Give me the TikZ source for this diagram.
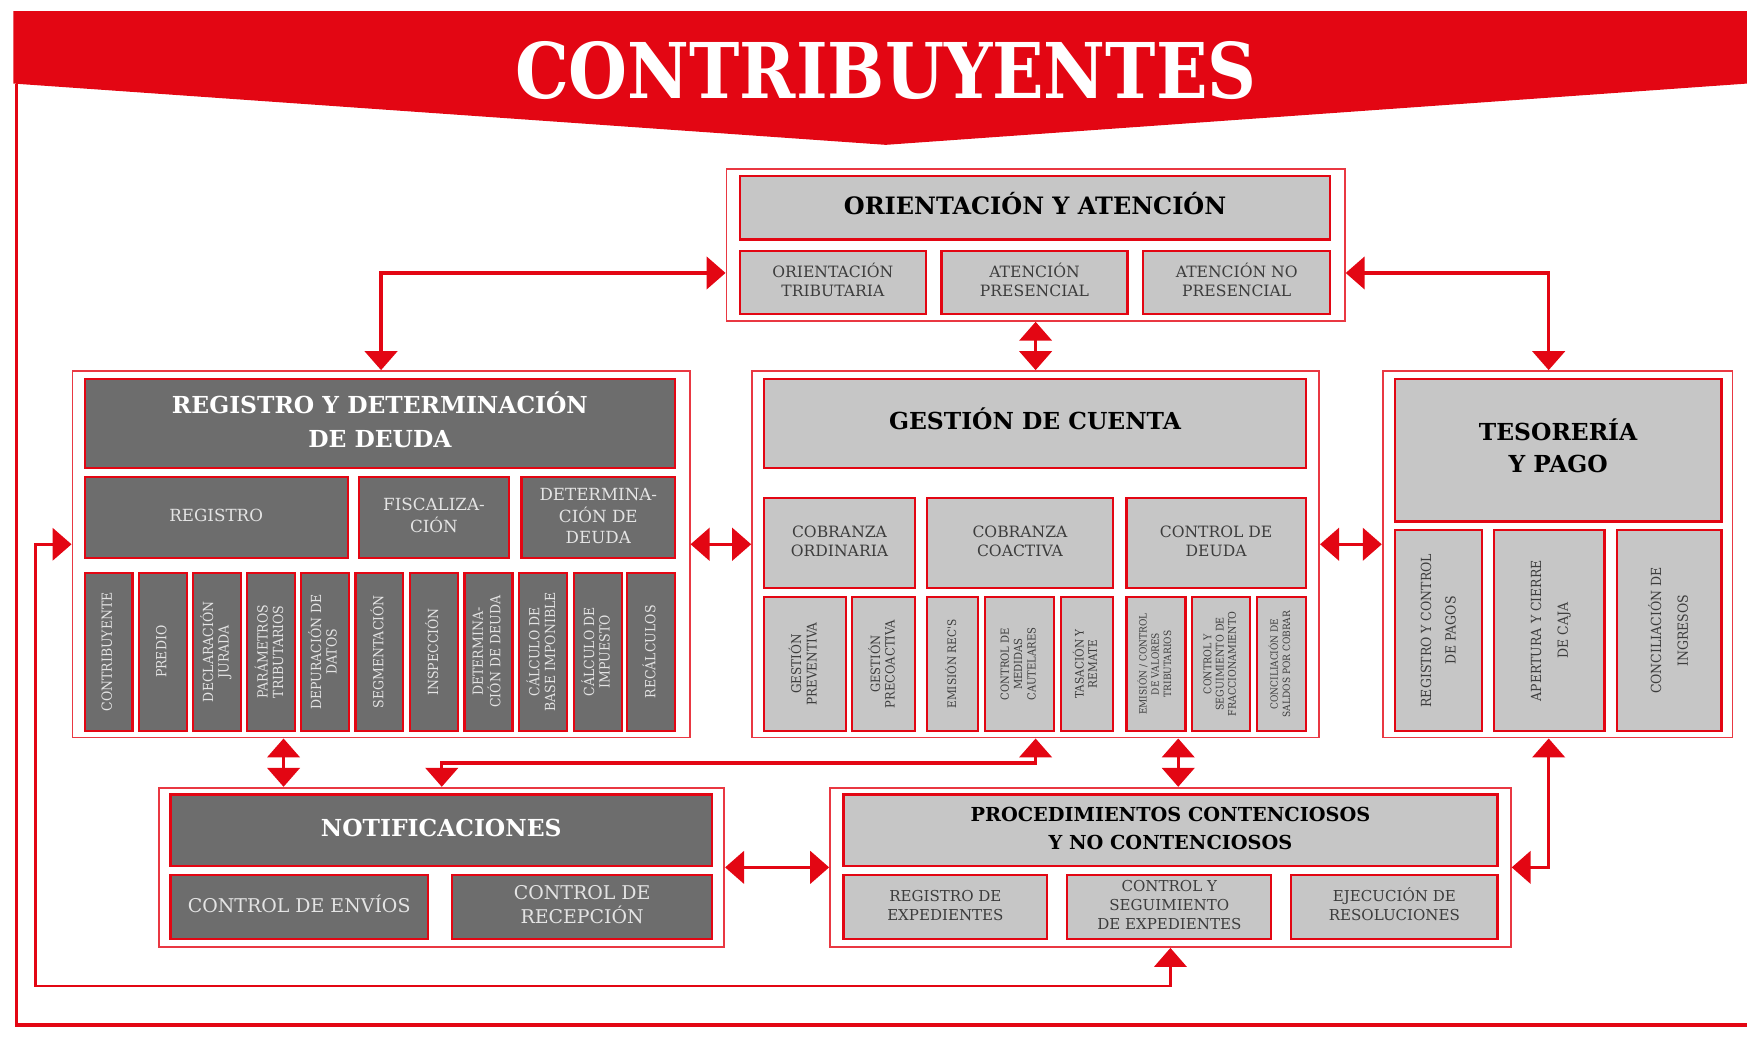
\documentclass[tikz,border=0pt]{standalone}
\usepackage{fontspec}
\setmainfont{DejaVu Serif}
\newfontfamily\titlefont{DejaVu Serif}[FakeStretch=0.88]
\newfontfamily\narrowfont{DejaVu Serif}[FakeStretch=0.9]
\usetikzlibrary{arrows.meta, fit, calc}
\definecolor{cred}{HTML}{E30613}
\definecolor{boxdark}{HTML}{6D6D6D}
\definecolor{boxlight}{HTML}{C6C6C6}
\definecolor{txtlight}{HTML}{E4E4E4}
\definecolor{txtdark}{HTML}{3C3C3C}
\newcommand{\stk}[1]{\begin{tabular}{@{}c@{}}#1\end{tabular}}
\tikzset{
  frame/.style={draw=cred!80, line width=1.6pt, inner sep=0pt},
  darkbox/.style={fill=boxdark, draw=cred, line width=2pt, inner sep=0pt},
  lightbox/.style={fill=boxlight, draw=cred, line width=2pt, inner sep=0pt},
  hdark/.style={inner sep=0pt, text=white, font=\bfseries\fontsize{21}{31}\selectfont},
  hlight/.style={inner sep=0pt, text=black, font=\bfseries\fontsize{21}{29}\selectfont},
  sdark/.style={inner sep=0pt, text=txtlight, font=\fontsize{15}{19.5}\selectfont},
  slight/.style={inner sep=0pt, text=txtdark, font=\fontsize{14}{17}\selectfont},
  vdark/.style={rotate=90, inner sep=0pt, text=txtlight, font=\narrowfont\fontsize{12.5}{14}\selectfont},
  vlight/.style={rotate=90, inner sep=0pt, text=txtdark, font=\narrowfont\fontsize{12}{14}\selectfont},
  link/.style={draw=cred, line width=3pt, {Triangle[width=29pt,length=17pt]}-{Triangle[width=29pt,length=17pt]}}
}

\begin{document}
\begin{tikzpicture}[x=1pt, y=-1pt]
  \useasboundingbox (0,0) rectangle (1568,931);

  % banner and outer border
  \fill[cred] (12,10) -- (1568,10) -- (1568,75) -- (795,130) -- (12,75) -- cycle;
  \node[text=white, font=\titlefont\bfseries\fontsize{69}{70}\selectfont] (title) at (795,63) {CONTRIBUYENTES};
  \draw[cred, line width=3pt] (15,75) -- (15,920) -- (1568,920);

  % orientacion y atencion
  \node[frame, fit={(652,152) (1207,288)}] (oa) {};
  \node[lightbox, fit={(664,158) (1194,215)}, label={[hlight, font=\bfseries\fontsize{21.5}{26}\selectfont]center:\stk{ORIENTACIÓN Y ATENCIÓN}}] (oah) {};
  \node[lightbox, fit={(664,225) (831,282)}, label={[slight]center:\stk{ORIENTACIÓN\\TRIBUTARIA}}] (oa1) {};
  \node[lightbox, fit={(845,225) (1012,282)}, label={[slight]center:\stk{ATENCIÓN\\PRESENCIAL}}] (oa2) {};
  \node[lightbox, fit={(1026,225) (1194,282)}, label={[slight]center:\stk{ATENCIÓN NO\\PRESENCIAL}}] (oa3) {};

  % registro y determinacion de deuda
  \node[frame, fit={(65,333) (619,662)}] (rd) {};
  \node[darkbox, fit={(76,340) (606,420)}, label={[hdark]center:\stk{REGISTRO Y DETERMINACIÓN\\DE DEUDA}}] (rdh) {};
  \node[darkbox, fit={(76,428) (312,501)}, label={[sdark]center:\stk{REGISTRO}}] (rdreg) {};
  \node[darkbox, fit={(322,428) (457,501)}, label={[sdark]center:\stk{FISCALIZA-\\CIÓN}}] (rdfis) {};
  \node[darkbox, fit={(468,428) (606,501)}, label={[sdark]center:\stk{DETERMINA-\\CIÓN DE\\DEUDA}}] (rddet) {};
  \node[darkbox, fit={(76,514) (119,656)}, label={[vdark]center:\stk{CONTRIBUYENTE}}] (rd1) {};
  \node[darkbox, fit={(125,514) (168,656)}, label={[vdark]center:\stk{PREDIO}}] (rd2) {};
  \node[darkbox, fit={(173,514) (216,656)}, label={[vdark]center:\stk{DECLARACIÓN\\JURADA}}] (rd3) {};
  \node[darkbox, fit={(222,514) (265,656)}, label={[vdark]center:\stk{PARÁMETROS\\TRIBUTARIOS}}] (rd4) {};
  \node[darkbox, fit={(270,514) (313,656)}, label={[vdark]center:\stk{DEPURACIÓN DE\\DATOS}}] (rd5) {};
  \node[darkbox, fit={(319,514) (362,656)}, label={[vdark]center:\stk{SEGMENTACIÓN}}] (rd6) {};
  \node[darkbox, fit={(368,514) (411,656)}, label={[vdark]center:\stk{INSPECCIÓN}}] (rd7) {};
  \node[darkbox, fit={(417,514) (460,656)}, label={[vdark]center:\stk{DETERMINA-\\CIÓN DE DEUDA}}] (rd8) {};
  \node[darkbox, fit={(466,514) (509,656)}, label={[vdark]center:\stk{CÁLCULO DE\\BASE IMPONIBLE}}] (rd9) {};
  \node[darkbox, fit={(515,514) (558,656)}, label={[vdark]center:\stk{CÁLCULO DE\\IMPUESTO}}] (rd10) {};
  \node[darkbox, fit={(563,514) (606,656)}, label={[vdark]center:\stk{RECÁLCULOS}}] (rd11) {};

  % gestion de cuenta
  \node[frame, fit={(675,333) (1184,662)}] (gc) {};
  \node[lightbox, fit={(686,340) (1172,420)}, label={[hlight]center:\stk{GESTIÓN DE CUENTA}}] (gch) {};
  \node[lightbox, fit={(686,447) (821,528)}, label={[slight]center:\stk{COBRANZA\\ORDINARIA}}] (gcord) {};
  \node[lightbox, fit={(832,447) (999,528)}, label={[slight]center:\stk{COBRANZA\\COACTIVA}}] (gccoa) {};
  \node[lightbox, fit={(1011,447) (1172,528)}, label={[slight]center:\stk{CONTROL DE\\DEUDA}}] (gcctl) {};
  \node[lightbox, fit={(686,536) (759,656)}, label={[vlight]center:\stk{GESTIÓN\\PREVENTIVA}}] (gc1) {};
  \node[lightbox, fit={(765,536) (821,656)}, label={[vlight, font=\narrowfont\fontsize{11.5}{13}\selectfont]center:\stk{GESTIÓN\\PRECOACTIVA}}] (gc2) {};
  \node[lightbox, fit={(832,536) (878,656)}, label={[vlight, font=\narrowfont\fontsize{10.5}{12}\selectfont]center:\stk{EMISIÓN REC'S}}] (gc3) {};
  \node[lightbox, fit={(884,536) (946,656)}, label={[vlight, font=\narrowfont\fontsize{10}{12}\selectfont]center:\stk{CONTROL DE\\MEDIDAS\\CAUTELARES}}] (gc4) {};
  \node[lightbox, fit={(952,536) (999,656)}, label={[vlight, font=\narrowfont\fontsize{10.5}{12}\selectfont]center:\stk{TASACIÓN Y\\REMATE}}] (gc5) {};
  \node[lightbox, fit={(1011,536) (1064,656)}, label={[vlight, font=\narrowfont\fontsize{9}{11}\selectfont]center:\stk{EMISIÓN / CONTROL\\DE VALORES\\TRIBUTARIOS}}] (gc6) {};
  \node[lightbox, fit={(1070,536) (1122,656)}, label={[vlight, font=\narrowfont\fontsize{9.5}{11}\selectfont]center:\stk{CONTROL Y\\SEGUIMIENTO DE\\FRACCIONAMIENTO}}] (gc7) {};
  \node[lightbox, fit={(1128,536) (1172,656)}, label={[vlight, font=\narrowfont\fontsize{9}{11}\selectfont]center:\stk{CONCILIACIÓN DE\\SALDOS POR COBRAR}}] (gc8) {};

  % tesoreria y pago
  \node[frame, fit={(1241,333) (1555,662)}] (tp) {};
  \node[lightbox, fit={(1252,340) (1545,468)}, label={[hlight]center:\stk{TESORERÍA\\Y PAGO}}] (tph) {};
  \node[lightbox, fit={(1252,476) (1330,656)}, label={[vlight, font=\narrowfont\fontsize{12.5}{22}\selectfont]center:\stk{REGISTRO Y CONTROL\\DE PAGOS}}] (tp1) {};
  \node[lightbox, fit={(1341,476) (1440,656)}, label={[vlight, font=\narrowfont\fontsize{12.5}{24}\selectfont]center:\stk{APERTURA Y CIERRE\\DE CAJA}}] (tp2) {};
  \node[lightbox, fit={(1451,476) (1545,656)}, label={[vlight, font=\narrowfont\fontsize{12.5}{24}\selectfont]center:\stk{CONCILIACIÓN DE\\INGRESOS}}] (tp3) {};

  % notificaciones
  \node[frame, fit={(143,707) (650,850)}] (nt) {};
  \node[darkbox, fit={(153,713) (639,777)}, label={[hdark]center:\stk{NOTIFICACIONES}}] (nth) {};
  \node[darkbox, fit={(153,785) (384,843)}, label={[sdark, font=\fontsize{17}{21}\selectfont]center:\stk{CONTROL DE ENVÍOS}}] (nt1) {};
  \node[darkbox, fit={(406,785) (639,843)}, label={[sdark, font=\fontsize{17}{21}\selectfont]center:\stk{CONTROL DE\\RECEPCIÓN}}] (nt2) {};

  % procedimientos
  \node[frame, fit={(745,707) (1356,850)}] (pc) {};
  \node[lightbox, fit={(757,713) (1344,777)}, label={[hlight, font=\bfseries\fontsize{17.3}{25}\selectfont]center:\stk{PROCEDIMIENTOS CONTENCIOSOS\\Y NO CONTENCIOSOS}}] (pch) {};
  \node[lightbox, fit={(757,785) (940,843)}, label={[slight, font=\fontsize{13.5}{17}\selectfont]center:\stk{REGISTRO DE\\EXPEDIENTES}}] (pc1) {};
  \node[lightbox, fit={(958,785) (1141,843)}, label={[slight, font=\fontsize{13.5}{17}\selectfont]center:\stk{CONTROL Y\\SEGUIMIENTO\\DE EXPEDIENTES}}] (pc2) {};
  \node[lightbox, fit={(1159,785) (1344,843)}, label={[slight, font=\fontsize{13.5}{17}\selectfont]center:\stk{EJECUCIÓN DE\\RESOLUCIONES}}] (pc3) {};

  % connectors
  \draw[link] ([yshift=-25pt]oa.west) -| (rd.north);
  \draw[link] ([yshift=-25pt]oa.east) -| ([xshift=-8pt]tp.north);
  \draw[link] (oa.south) -- (gc.north);
  \draw[link] ([yshift=9pt]rd.east) -- ([yshift=9pt]gc.west);
  \draw[link] ([yshift=9pt]gc.east) -- ([yshift=9pt]tp.west);
  \draw[link] ([xshift=-142pt]nt.north) -- ([xshift=-142pt]nt.north |- rd.south);
  \draw[link] (gc.south) -- ++(0,22) -| (nt.north);
  \draw[link] ([xshift=7pt]pc.north) -- ([xshift=7pt]pc.north |- gc.south);
  \draw[link] (nt.east) -- (pc.west);
  \draw[link] ([xshift=-8pt]tp.south) |- (pc.east);
  \coordinate (fbcorner) at (32,885);
  \draw[link, line width=2.5pt] (pc.south) |- (fbcorner) |- ([yshift=9pt]rd.west);
\end{tikzpicture}
\end{document}
